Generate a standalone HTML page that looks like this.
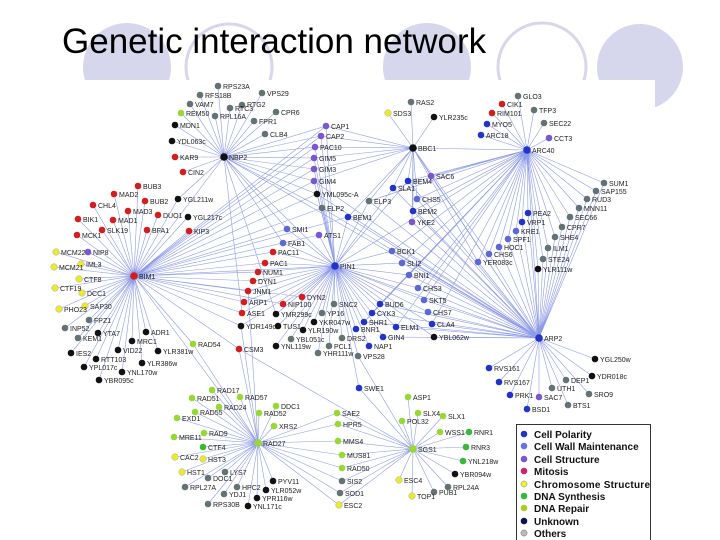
<!DOCTYPE html>
<html><head><meta charset="utf-8"><style>
html,body{margin:0;padding:0;background:#fff;}
body{width:720px;height:540px;overflow:hidden;position:relative;font-family:"Liberation Sans",sans-serif;}
svg{position:absolute;left:0;top:0;}
.e{stroke:#8e9be6;stroke-width:0.6;fill:none;}
.l{font-family:"Liberation Sans",sans-serif;font-size:7px;fill:#222;}
.lg{font-family:"Liberation Sans",sans-serif;font-size:10px;font-weight:bold;fill:#111;}
</style></head><body>
<svg width="720" height="540" viewBox="0 0 720 540">
<circle cx="127" cy="67" r="44" fill="#d6d6ec"/>
<circle cx="229" cy="67" r="43" fill="none" stroke="#d6d6ec" stroke-width="3"/>
<circle cx="427" cy="67" r="44" fill="#d6d6ec"/>
<circle cx="542" cy="67" r="44" fill="none" stroke="#d6d6ec" stroke-width="3"/>
<circle cx="640" cy="67" r="43" fill="#d6d6ec"/>
<text x="62" y="53" font-size="35" font-family="Liberation Sans, sans-serif" fill="#000">Genetic interaction network</text>
<rect x="0" y="80" width="655" height="460" fill="#fff"/>

<!-- edges -->
<path class="e" d="
M224 157L218 86M224 157L200 95M224 157L262 93M224 157L190 104M224 157L242 105M224 157L230 108M224 157L276 112M224 157L181 113M224 157L215 116M224 157L254 121M224 157L175 125M224 157L265 134M224 157L172 141M224 157L175 157M224 157L183 172
M224 157L326 126M224 157L321 136M224 157L315 147M224 157L314 158M224 157L314 169M224 157L314 181M224 157L317 194M224 157L322 208M224 157L287 229M224 157L283 243M224 157L178 199M224 157L134 276M224 157L539 338M224 157L335 266M224 157L276 314M224 157L242 313
M134 276L138 186M134 276L114 194M134 276L145 201M134 276L93 205M134 276L128 211M134 276L158 215M134 276L113 220M134 276L78 219M134 276L102 230M134 276L147 230M134 276L189 231M134 276L77 235M134 276L178 199M134 276L188 217
M134 276L56 252M134 276L88 252M134 276L54 267M134 276L81 264M134 276L79 279M134 276L55 288M134 276L82 293M134 276L85 306M134 276L59 309M134 276L89 320M134 276L65 328M134 276L98 333M134 276L78 338M134 276L146 332M134 276L132 341M134 276L158 351M134 276L118 350M134 276L71 353M134 276L96 359M134 276L142 363M134 276L84 367M134 276L122 372M134 276L99 380M134 276L193 344M134 276L239 349
M134 276L326 126M134 276L321 136M134 276L315 147M134 276L314 158M134 276L314 169M134 276L314 181M134 276L317 194M134 276L322 208M134 276L287 229M134 276L283 243M134 276L319 235M134 276L348 217M134 276L273 252M134 276L265 263M134 276L258 272M134 276L253 281M134 276L248 291M134 276L244 302M134 276L242 313M134 276L241 326M134 276L335 266M134 276L302 297M134 276L283 304M134 276L258 443
M335 266L326 126M335 266L321 136M335 266L315 147M335 266L314 158M335 266L314 169M335 266L314 181M335 266L317 194M335 266L322 208M335 266L319 235M335 266L348 217M335 266L287 229M335 266L283 243M335 266L273 252M335 266L265 263M335 266L258 272M335 266L253 281M335 266L248 291M335 266L244 302M335 266L242 313M335 266L241 326
M335 266L302 297M335 266L283 304M335 266L276 314M335 266L278 326M335 266L276 346M335 266L314 322M335 266L303 330M335 266L291 339M335 266L329 346M335 266L318 353M335 266L334 304M335 266L322 313M335 266L342 338M335 266L380 304M335 266L372 313M335 266L364 322M335 266L356 329M335 266L396 327M335 266L383 337M335 266L369 346M335 266L358 356M335 266L359 388M335 266L392 251M335 266L402 263M335 266L409 275M335 266L418 288M335 266L424 300M335 266L428 312M335 266L432 324M335 266L434 337M335 266L369 201M335 266L393 188M335 266L408 181M335 266L539 338
M413 148L411 102M413 148L388 113M413 148L434 117M413 148L431 176M413 148L408 181M413 148L393 188M413 148L369 201M413 148L417 199M413 148L413 211M413 148L412 222M413 148L348 217M413 148L326 126M413 148L321 136M413 148L315 147M413 148L314 158M413 148L314 169M413 148L314 181M413 148L527 150M413 148L539 338M413 148L478 262M413 148L489 254
M527 150L518 96M527 150L502 104M527 150L534 110M527 150L492 113M527 150L487 124M527 150L544 123M527 150L481 135M527 150L549 138M527 150L604 183M527 150L596 191M527 150L587 199M527 150L579 208M527 150L570 217M527 150L562 227M527 150L555 237M527 150L548 248M527 150L543 259M527 150L538 269M527 150L528 213M527 150L522 222M527 150L516 231M527 150L508 239M527 150L499 247M527 150L489 254M527 150L478 262
M527 150L431 176M527 150L408 181M527 150L393 188M527 150L369 201M527 150L417 199M527 150L413 211M527 150L392 251M527 150L402 263M527 150L409 275M527 150L418 288M527 150L424 300M527 150L380 304M527 150L396 327M527 150L372 313M527 150L335 266M527 150L539 338M527 150L364 322M527 150L432 324
M539 338L489 368M539 338L499 382M539 338L510 395M539 338L527 409M539 338L539 397M539 338L552 388M539 338L566 380M539 338L589 394M539 338L568 405M539 338L595 359M539 338L592 376
M539 338L604 183M539 338L596 191M539 338L587 199M539 338L579 208M539 338L570 217M539 338L562 227M539 338L555 237M539 338L548 248M539 338L543 259M539 338L538 269M539 338L528 213M539 338L522 222M539 338L516 231M539 338L508 239M539 338L499 247M539 338L489 254M539 338L478 262
M539 338L432 324M539 338L434 337M539 338L428 312M539 338L424 300M539 338L418 288M539 338L409 275M539 338L402 263M539 338L392 251M539 338L380 304M539 338L396 327M539 338L383 337M539 338L431 176M539 338L417 199M539 338L413 211M539 338L412 222M539 338L408 181M539 338L393 188M539 338L369 201M539 338L348 217M539 338L314 181M539 338L317 194M539 338L322 208M539 338L372 313M539 338L364 322
M258 443L212 390M258 443L240 397M258 443L192 398M258 443L219 407M258 443L276 406M258 443L195 412M258 443L259 413M258 443L177 418M258 443L274 426M258 443L204 433M258 443L174 437M258 443L203 447M258 443L175 457M258 443L203 459M258 443L182 472M258 443L225 472M258 443L208 478M258 443L185 487M258 443L237 487M258 443L224 494M258 443L273 481M258 443L266 490M258 443L257 498M258 443L248 506M258 443L208 504
M258 443L337 413M258 443L338 424M258 443L338 441M258 443L342 455M258 443L342 468M258 443L342 481M258 443L340 493M258 443L339 505M258 443L193 344M258 443L239 349M258 443L248 291M258 443L241 326
M413 449L408 397M413 449L418 413M413 449L443 416M413 449L402 421M413 449L440 432M413 449L469 432M413 449L466 447M413 449L463 461M413 449L455 474M413 449L448 487M413 449L434 492M413 449L399 480M413 449L412 496
M413 449L337 413M413 449L338 424M413 449L338 441M413 449L342 455M413 449L342 468M413 449L342 481M413 449L340 493M413 449L339 505M413 449L359 388M413 449L239 349M413 449L358 356
"/>

<!-- nodes -->
<g stroke="none">
<!-- gray -->
<g fill="#637272">
<circle cx="218" cy="86" r="3.3"/><circle cx="200" cy="95" r="3.3"/><circle cx="262" cy="93" r="3.3"/><circle cx="190" cy="104" r="3.3"/><circle cx="242" cy="105" r="3.3"/><circle cx="230" cy="108" r="3.3"/><circle cx="276" cy="112" r="3.3"/><circle cx="215" cy="116" r="3.3"/><circle cx="254" cy="121" r="3.3"/><circle cx="265" cy="134" r="3.3"/>
<circle cx="322" cy="208" r="3.3"/><circle cx="89" cy="320" r="3.3"/><circle cx="65" cy="328" r="3.3"/><circle cx="78" cy="338" r="3.3"/>
<circle cx="291" cy="339" r="3.3"/><circle cx="329" cy="346" r="3.3"/><circle cx="318" cy="353" r="3.3"/><circle cx="334" cy="304" r="3.3"/><circle cx="322" cy="313" r="3.3"/><circle cx="342" cy="338" r="3.3"/><circle cx="358" cy="356" r="3.3"/>
<circle cx="411" cy="102" r="3.3"/><circle cx="369" cy="201" r="3.3"/>
<circle cx="518" cy="96" r="3.3"/><circle cx="534" cy="110" r="3.3"/><circle cx="544" cy="123" r="3.3"/>
<circle cx="604" cy="183" r="3.3"/><circle cx="596" cy="191" r="3.3"/><circle cx="587" cy="199" r="3.3"/><circle cx="579" cy="208" r="3.3"/><circle cx="570" cy="217" r="3.3"/><circle cx="562" cy="227" r="3.3"/><circle cx="555" cy="237" r="3.3"/><circle cx="548" cy="248" r="3.3"/><circle cx="543" cy="259" r="3.3"/>
<circle cx="552" cy="388" r="3.3"/><circle cx="566" cy="380" r="3.3"/><circle cx="589" cy="394" r="3.3"/><circle cx="568" cy="405" r="3.3"/>
<circle cx="225" cy="472" r="3.3"/><circle cx="208" cy="478" r="3.3"/><circle cx="185" cy="487" r="3.3"/><circle cx="237" cy="487" r="3.3"/><circle cx="224" cy="494" r="3.3"/><circle cx="208" cy="504" r="3.3"/>
<circle cx="342" cy="481" r="3.3"/><circle cx="340" cy="493" r="3.3"/><circle cx="448" cy="487" r="3.3"/><circle cx="434" cy="492" r="3.3"/>
</g>
<!-- black -->
<g fill="#111">
<circle cx="224" cy="157" r="3.8"/><circle cx="413" cy="148" r="3.8"/>
<circle cx="175" cy="125" r="3.3"/><circle cx="172" cy="141" r="3.3"/><circle cx="178" cy="199" r="3.3"/><circle cx="188" cy="217" r="3.3"/><circle cx="317" cy="194" r="3.3"/>
<circle cx="98" cy="333" r="3.3"/><circle cx="146" cy="332" r="3.3"/><circle cx="132" cy="341" r="3.3"/><circle cx="158" cy="351" r="3.3"/><circle cx="118" cy="350" r="3.3"/><circle cx="71" cy="353" r="3.3"/><circle cx="96" cy="359" r="3.3"/><circle cx="142" cy="363" r="3.3"/><circle cx="84" cy="367" r="3.3"/><circle cx="122" cy="372" r="3.3"/><circle cx="99" cy="380" r="3.3"/>
<circle cx="241" cy="326" r="3.3"/><circle cx="276" cy="314" r="3.3"/><circle cx="278" cy="326" r="3.3"/><circle cx="276" cy="346" r="3.3"/><circle cx="314" cy="322" r="3.3"/><circle cx="303" cy="330" r="3.3"/>
<circle cx="434" cy="337" r="3.3"/><circle cx="434" cy="117" r="3.3"/><circle cx="538" cy="269" r="3.3"/><circle cx="595" cy="359" r="3.3"/><circle cx="592" cy="376" r="3.3"/>
<circle cx="273" cy="481" r="3.3"/><circle cx="266" cy="490" r="3.3"/><circle cx="257" cy="498" r="3.3"/><circle cx="248" cy="506" r="3.3"/><circle cx="455" cy="474" r="3.3"/>
</g>
<!-- red -->
<g fill="#d41e1e">
<circle cx="134" cy="276" r="3.8"/>
<circle cx="175" cy="157" r="3.3"/><circle cx="183" cy="172" r="3.3"/>
<circle cx="138" cy="186" r="3.3"/><circle cx="114" cy="194" r="3.3"/><circle cx="145" cy="201" r="3.3"/><circle cx="93" cy="205" r="3.3"/><circle cx="128" cy="211" r="3.3"/><circle cx="158" cy="215" r="3.3"/><circle cx="113" cy="220" r="3.3"/><circle cx="78" cy="219" r="3.3"/><circle cx="102" cy="230" r="3.3"/><circle cx="147" cy="230" r="3.3"/><circle cx="189" cy="231" r="3.3"/><circle cx="77" cy="235" r="3.3"/>
<circle cx="273" cy="252" r="3.3"/><circle cx="265" cy="263" r="3.3"/><circle cx="258" cy="272" r="3.3"/><circle cx="253" cy="281" r="3.3"/><circle cx="248" cy="291" r="3.3"/><circle cx="244" cy="302" r="3.3"/><circle cx="242" cy="313" r="3.3"/><circle cx="302" cy="297" r="3.3"/><circle cx="283" cy="304" r="3.3"/><circle cx="239" cy="349" r="3.3"/>
<circle cx="502" cy="104" r="3.3"/><circle cx="492" cy="113" r="3.3"/>
</g>
<!-- purple -->
<g fill="#7a56cf">
<circle cx="326" cy="126" r="3.3"/><circle cx="321" cy="136" r="3.3"/><circle cx="315" cy="147" r="3.3"/><circle cx="314" cy="158" r="3.3"/><circle cx="314" cy="169" r="3.3"/><circle cx="314" cy="181" r="3.3"/><circle cx="319" cy="235" r="3.3"/><circle cx="88" cy="252" r="3.3"/><circle cx="431" cy="176" r="3.3"/><circle cx="412" cy="222" r="3.3"/><circle cx="549" cy="138" r="3.3"/><circle cx="539" cy="397" r="3.3"/>
</g>
<!-- light blue -->
<g fill="#5b68d6">
<circle cx="287" cy="229" r="3.3"/><circle cx="283" cy="243" r="3.3"/><circle cx="417" cy="199" r="3.3"/><circle cx="392" cy="251" r="3.3"/><circle cx="402" cy="263" r="3.3"/><circle cx="409" cy="275" r="3.3"/><circle cx="418" cy="288" r="3.3"/><circle cx="424" cy="300" r="3.3"/><circle cx="428" cy="312" r="3.3"/>
<circle cx="516" cy="231" r="3.3"/><circle cx="508" cy="239" r="3.3"/><circle cx="499" cy="247" r="3.3"/><circle cx="489" cy="254" r="3.3"/><circle cx="478" cy="262" r="3.3"/>
</g>
<!-- blue -->
<g fill="#2233cc">
<circle cx="335" cy="266" r="3.8"/><circle cx="527" cy="150" r="3.8"/><circle cx="539" cy="338" r="3.8"/>
<circle cx="348" cy="217" r="3.3"/><circle cx="408" cy="181" r="3.3"/><circle cx="393" cy="188" r="3.3"/><circle cx="413" cy="211" r="3.3"/>
<circle cx="487" cy="124" r="3.3"/><circle cx="481" cy="135" r="3.3"/><circle cx="528" cy="213" r="3.3"/><circle cx="522" cy="222" r="3.3"/>
<circle cx="380" cy="304" r="3.3"/><circle cx="372" cy="313" r="3.3"/><circle cx="364" cy="322" r="3.3"/><circle cx="356" cy="329" r="3.3"/><circle cx="396" cy="327" r="3.3"/><circle cx="383" cy="337" r="3.3"/><circle cx="369" cy="346" r="3.3"/><circle cx="359" cy="388" r="3.3"/><circle cx="432" cy="324" r="3.3"/>
<circle cx="489" cy="368" r="3.3"/><circle cx="499" cy="382" r="3.3"/><circle cx="510" cy="395" r="3.3"/><circle cx="527" cy="409" r="3.3"/>
</g>
<!-- yellow -->
<g fill="#eaea2e" stroke="#999" stroke-width="0.4">
<circle cx="56" cy="252" r="3.3"/><circle cx="54" cy="267" r="3.3"/><circle cx="81" cy="264" r="3.3"/><circle cx="79" cy="279" r="3.3"/><circle cx="55" cy="288" r="3.3"/><circle cx="82" cy="293" r="3.3"/><circle cx="85" cy="306" r="3.3"/><circle cx="59" cy="309" r="3.3"/>
<circle cx="388" cy="113" r="3.3"/><circle cx="175" cy="457" r="3.3"/><circle cx="203" cy="459" r="3.3"/><circle cx="182" cy="472" r="3.3"/><circle cx="339" cy="505" r="3.3"/><circle cx="399" cy="480" r="3.3"/><circle cx="412" cy="496" r="3.3"/>
</g>
<!-- lime -->
<g fill="#98d834">
<circle cx="258" cy="443" r="3.8"/><circle cx="413" cy="449" r="3.8"/>
<circle cx="181" cy="113" r="3.3"/><circle cx="193" cy="344" r="3.3"/>
<circle cx="212" cy="390" r="3.3"/><circle cx="240" cy="397" r="3.3"/><circle cx="192" cy="398" r="3.3"/><circle cx="219" cy="407" r="3.3"/><circle cx="276" cy="406" r="3.3"/><circle cx="195" cy="412" r="3.3"/><circle cx="259" cy="413" r="3.3"/><circle cx="177" cy="418" r="3.3"/><circle cx="274" cy="426" r="3.3"/><circle cx="204" cy="433" r="3.3"/><circle cx="174" cy="437" r="3.3"/>
<circle cx="337" cy="413" r="3.3"/><circle cx="338" cy="424" r="3.3"/><circle cx="338" cy="441" r="3.3"/><circle cx="342" cy="455" r="3.3"/><circle cx="342" cy="468" r="3.3"/>
<circle cx="408" cy="397" r="3.3"/><circle cx="418" cy="413" r="3.3"/><circle cx="443" cy="416" r="3.3"/><circle cx="402" cy="421" r="3.3"/><circle cx="440" cy="432" r="3.3"/>
</g>
<!-- green -->
<g fill="#38b838">
<circle cx="203" cy="447" r="3.3"/><circle cx="469" cy="432" r="3.3"/><circle cx="466" cy="447" r="3.3"/><circle cx="463" cy="461" r="3.3"/>
</g>
</g>

<!-- labels -->
<g class="l">
<text x="223" y="89">RPS23A</text><text x="205" y="98">RFS18B</text><text x="267" y="96">VPS29</text><text x="195" y="107">VAM7</text><text x="247" y="107">RTG2</text><text x="235" y="111">RTC3</text><text x="281" y="115">CPR6</text><text x="186" y="116">REM50</text><text x="220" y="119">RPL16A</text><text x="259" y="124">FPR1</text><text x="180" y="128">MDN1</text><text x="270" y="137">CLB4</text><text x="177" y="144">YDL063c</text><text x="180" y="160">KAR9</text><text x="188" y="175">CIN2</text><text x="229" y="160">NBP2</text>
<text x="331" y="129">CAP1</text><text x="326" y="139">CAP2</text><text x="320" y="150">PAC10</text><text x="319" y="161">GIM5</text><text x="319" y="172">GIM3</text><text x="319" y="184">GIM4</text><text x="322" y="197">YML095c-A</text><text x="327" y="211">ELP2</text><text x="324" y="238">ATS1</text><text x="292" y="232">SMI1</text><text x="288" y="246">FAB1</text><text x="353" y="220">BEM1</text>
<text x="143" y="189">BUB3</text><text x="119" y="197">MAD2</text><text x="150" y="204">BUB2</text><text x="98" y="208">CHL4</text><text x="133" y="214">MAD3</text><text x="163" y="218">DUO1</text><text x="118" y="223">MAD1</text><text x="83" y="222">BIK1</text><text x="107" y="233">SLK19</text><text x="152" y="233">BFA1</text><text x="194" y="234">KIP3</text><text x="82" y="238">MCK1</text><text x="183" y="202">YGL211w</text><text x="193" y="220">YGL217c</text>
<text x="61" y="255">MCM22</text><text x="93" y="255">NIP8</text><text x="59" y="270">MCM21</text><text x="86" y="267">IML3</text><text x="84" y="282">CTF8</text><text x="60" y="291">CTF19</text><text x="87" y="296">DCC1</text><text x="90" y="309">SAP30</text><text x="64" y="312">PHO23</text><text x="94" y="323">FPZ1</text><text x="70" y="331">INP52</text><text x="103" y="336">YTA7</text><text x="83" y="341">KEM1</text><text x="151" y="335">ADR1</text><text x="137" y="344">MRC1</text><text x="163" y="354">YLR381w</text><text x="123" y="353">VID22</text><text x="76" y="356">IES2</text><text x="101" y="362">RTT103</text><text x="147" y="366">YLR386w</text><text x="89" y="370">YPL017c</text><text x="127" y="375">YNL170w</text><text x="104" y="383">YBR095c</text><text x="139" y="279">BIM1</text>
<text x="198" y="347">RAD54</text><text x="244" y="352">CSM3</text>
<text x="278" y="255">PAC11</text><text x="270" y="266">PAC1</text><text x="263" y="275">NUM1</text><text x="258" y="284">DYN1</text><text x="253" y="294">JNM1</text><text x="249" y="305">ARP1</text><text x="247" y="316">ASE1</text><text x="246" y="329">YDR149c</text><text x="307" y="300">DYN2</text><text x="288" y="307">NIP100</text><text x="281" y="317">YMR299c</text><text x="283" y="329">TUS1</text><text x="281" y="349">YNL119w</text><text x="319" y="325">YKR047w</text><text x="308" y="333">YLR190w</text><text x="296" y="342">YBL051c</text><text x="334" y="349">PCL1</text><text x="323" y="356">YHR111w</text><text x="339" y="307">SNC2</text><text x="327" y="316">YP16</text><text x="347" y="341">DRS2</text><text x="363" y="359">VPS28</text>
<text x="340" y="269">PIN1</text><text x="385" y="307">BUD6</text><text x="377" y="316">CYK3</text><text x="369" y="325">SHR1</text><text x="361" y="332">BNR1</text><text x="401" y="330">ELM1</text><text x="388" y="340">GIN4</text><text x="374" y="349">NAP1</text><text x="364" y="391">SWE1</text>
<text x="397" y="254">BCK1</text><text x="407" y="266">SLI2</text><text x="414" y="278">BNI1</text><text x="423" y="291">CHS3</text><text x="429" y="303">SKT5</text><text x="433" y="315">CHS7</text><text x="437" y="327">CLA4</text><text x="439" y="340">YBL062w</text>
<text x="416" y="105">RAS2</text><text x="393" y="116">SDS3</text><text x="439" y="120">YLR235c</text><text x="418" y="151">BBC1</text><text x="436" y="179">SAC6</text><text x="413" y="184">BEM4</text><text x="398" y="191">SLA1</text><text x="374" y="204">ELP3</text><text x="422" y="202">CHS5</text><text x="418" y="214">BEM2</text><text x="417" y="225">YKE2</text>
<text x="523" y="99">GLO3</text><text x="507" y="107">CIK1</text><text x="539" y="113">TFP3</text><text x="497" y="116">RIM101</text><text x="492" y="127">MYO5</text><text x="549" y="126">SEC22</text><text x="486" y="138">ARC18</text><text x="554" y="141">CCT3</text><text x="532" y="153">ARC40</text>
<text x="609" y="186">SUM1</text><text x="601" y="194">SAP155</text><text x="592" y="202">RUD3</text><text x="584" y="211">MNN11</text><text x="575" y="220">SEC66</text><text x="567" y="230">CPR7</text><text x="560" y="240">SHE4</text><text x="553" y="251">ILM1</text><text x="548" y="262">STE24</text><text x="543" y="272">YLR111w</text>
<text x="533" y="216">PEA2</text><text x="527" y="225">VRP1</text><text x="521" y="234">KRE1</text><text x="513" y="242">SPF1</text><text x="504" y="250">HOC1</text><text x="494" y="257">CHS6</text><text x="483" y="265">YER083c</text>
<text x="544" y="341">ARP2</text><text x="494" y="371">RVS161</text><text x="504" y="385">RVS167</text><text x="515" y="398">PRK1</text><text x="532" y="412">BSD1</text><text x="544" y="400">SAC7</text><text x="557" y="391">UTH1</text><text x="571" y="383">DEP1</text><text x="594" y="397">SRO9</text><text x="573" y="408">BTS1</text><text x="600" y="362">YGL250w</text><text x="597" y="379">YDR018c</text>
<text x="217" y="393">RAD17</text><text x="245" y="400">RAD57</text><text x="197" y="401">RAD51</text><text x="224" y="410">RAD24</text><text x="281" y="409">DDC1</text><text x="200" y="415">RAD55</text><text x="264" y="416">RAD52</text><text x="182" y="421">EXD1</text><text x="279" y="429">XRS2</text><text x="209" y="436">RAD9</text><text x="179" y="440">MRE11</text><text x="208" y="450">CTF4</text><text x="263" y="446">RAD27</text><text x="180" y="460">CAC2</text><text x="208" y="462">HST3</text><text x="187" y="475">HST1</text><text x="230" y="475">LYS7</text><text x="213" y="481">DOC1</text><text x="190" y="490">RPL27A</text><text x="242" y="490">HPC2</text><text x="229" y="497">YDJ1</text><text x="278" y="484">PYV11</text><text x="271" y="493">YLR052w</text><text x="262" y="501">YPR116w</text><text x="253" y="509">YNL171c</text><text x="213" y="507">RPS30B</text>
<text x="342" y="416">SAE2</text><text x="343" y="427">HPR5</text><text x="343" y="444">MMS4</text><text x="347" y="458">MUS81</text><text x="347" y="471">RAD50</text><text x="347" y="484">SIS2</text><text x="345" y="496">SOD1</text><text x="344" y="508">ESC2</text>
<text x="413" y="400">ASP1</text><text x="423" y="416">SLX4</text><text x="448" y="419">SLX1</text><text x="407" y="424">POL32</text><text x="445" y="435">WSS1</text><text x="474" y="435">RNR1</text><text x="471" y="450">RNR3</text><text x="468" y="464">YNL218w</text><text x="460" y="477">YBR094w</text><text x="453" y="490">RPL24A</text><text x="439" y="495">PUB1</text><text x="404" y="483">ESC4</text><text x="417" y="499">TOP1</text><text x="418" y="452">SGS1</text>
</g>

<!-- legend -->
<rect x="516.5" y="424.5" width="134" height="116" fill="#fff" stroke="#333" stroke-width="1"/>
<circle cx="524" cy="434" r="3.3" fill="#2233cc"/><text class="lg" x="534" y="438">Cell Polarity</text>
<circle cx="524" cy="446" r="3.3" fill="#6675dd"/><text class="lg" x="534" y="450">Cell Wall Maintenance</text>
<circle cx="524" cy="459" r="3.3" fill="#7a56cf"/><text class="lg" x="534" y="463">Cell Structure</text>
<circle cx="524" cy="471" r="3.3" fill="#cc2277"/><text class="lg" x="534" y="475">Mitosis</text>
<circle cx="524" cy="484" r="3.1" fill="#eeee33" stroke="#888" stroke-width="0.5"/><text class="lg" x="534" y="488" textLength="116">Chromosome Structure</text>
<circle cx="524" cy="496" r="3.3" fill="#33bb33"/><text class="lg" x="534" y="500">DNA Synthesis</text>
<circle cx="524" cy="508" r="3.3" fill="#aacc22"/><text class="lg" x="534" y="512">DNA Repair</text>
<circle cx="524" cy="521" r="3.3" fill="#111155"/><text class="lg" x="534" y="525">Unknown</text>
<circle cx="524" cy="533" r="3.1" fill="#bbbbbb" stroke="#666" stroke-width="0.5"/><text class="lg" x="534" y="537">Others</text>
</svg>
</body></html>
